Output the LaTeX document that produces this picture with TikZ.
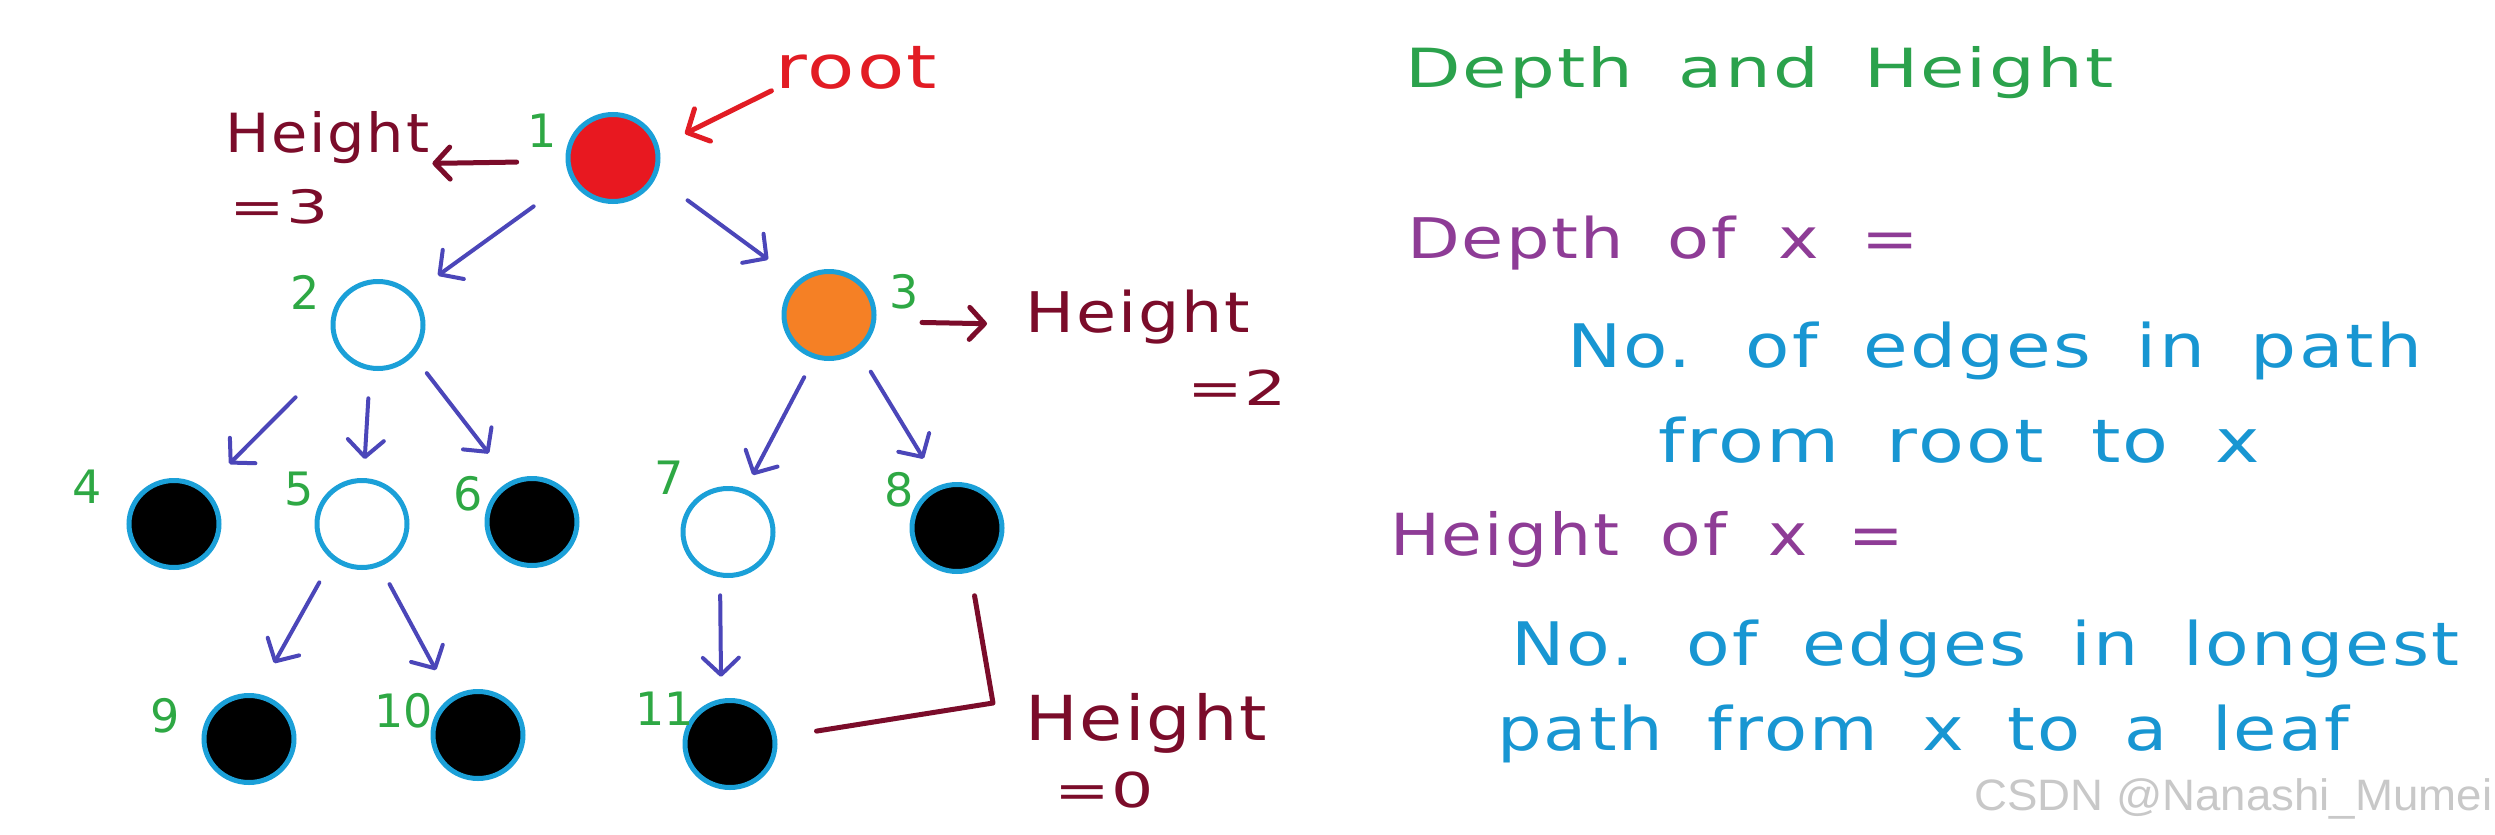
\documentclass[tikz,border=0pt]{standalone}
\usepackage{fontspec}
\usepackage{graphicx}
\usetikzlibrary{shapes.geometric,arrows.meta}
\newfontfamily\hand{DejaVu Sans}[LetterSpace=3,WordSpace=1.8]
\newfontfamily\handnum{DejaVu Sans}
\newfontfamily\wmfont{Liberation Sans}
\newcommand{\fitw}[2]{\resizebox{#1}{\height}{#2}}
\newcommand{\hs}[1]{\fontsize{#1}{#1}\selectfont}
\definecolor{nodeborder}{RGB}{27,160,216}
\definecolor{rootred}{RGB}{232,24,32}
\definecolor{orng}{RGB}{245,128,37}
\definecolor{edgeblue}{RGB}{75,70,185}
\definecolor{numgreen}{RGB}{46,168,68}
\definecolor{maroonc}{RGB}{123,12,42}
\definecolor{rred}{RGB}{226,28,36}
\definecolor{titlegreen}{RGB}{43,162,76}
\definecolor{purp}{RGB}{142,60,150}
\definecolor{txtblue}{RGB}{24,150,210}
\definecolor{wmgray}{RGB}{200,200,200}
\begin{document}
\begin{tikzpicture}[x=1pt,y=-1pt,
  treenode/.style={ellipse, draw=nodeborder, line width=5pt, minimum width=90pt, minimum height=87pt, inner sep=0pt},
  edge/.style={draw=edgeblue, line width=4pt, line cap=round, -{Straight Barb[length=17pt,width=36pt,round]}},
  marrow/.style={draw=maroonc, line width=5pt, line cap=round, -{Straight Barb[length=15pt,width=32pt,round]}},
  rarrow/.style={draw=rred, line width=5pt, line cap=round, -{Straight Barb[length=17pt,width=36pt,round]}},
  mline/.style={draw=maroonc, line width=5pt, line cap=round, line join=round},
  lbl/.style={inner sep=0pt, anchor=base west},
  numlbl/.style={inner sep=0pt, text=numgreen, font=\handnum\hs{46}}
]
\fill[white] (0,0) rectangle (2495,835);
\useasboundingbox (0,0) rectangle (2495,835);

% tree nodes
\node[treenode, fill=rootred] (n1) at (613,158) {};
\node[treenode, fill=white] (n2) at (378,325) {};
\node[treenode, fill=orng] (n3) at (829,315) {};
\node[treenode, fill=black] (n4) at (174,524) {};
\node[treenode, fill=white] (n5) at (362,524) {};
\node[treenode, fill=black] (n6) at (532,522) {};
\node[treenode, fill=white] (n7) at (728,532) {};
\node[treenode, fill=black] (n8) at (957,528) {};
\node[treenode, fill=black] (n9) at (249,739) {};
\node[treenode, fill=black] (n10) at (478,735) {};
\node[treenode, fill=black] (n11) at (730,744) {};

% number labels
\node[numlbl] (l1) at (542,131) {1};
\node[numlbl] (l2) at (305,292) {2};
\node[numlbl] (l3) at (904,292) {3};
\node[numlbl] (l4) at (87,487) {4};
\node[numlbl] (l5) at (299,489) {5};
\node[numlbl] (l6) at (468,494) {6};
\node[numlbl] (l7) at (669,478) {7};
\node[numlbl] (l8) at (899,490) {8};
\node[numlbl] (l9) at (165,716) {9};
\node[numlbl] (l10) at (404,711) {10};
\node[numlbl] (l11) at (665,709) {11};

% edges
\draw[edge,shorten <=46pt,shorten >=31pt] (n1.207) -- (n2.42);
\draw[edge,shorten <=39pt,shorten >=36pt] (n1.336) -- (n3.133);
\draw[edge,shorten <=63pt,shorten >=35pt] (n2.216) -- (n4.49);
\draw[edge,shorten <=28pt,shorten >=19pt] (n2.260) -- (n5.88);
\draw[edge,shorten <=22pt,shorten >=35pt] (n2.319) -- (n6.118);
\draw[edge,shorten <=21pt,shorten >=16pt] (n3.251) -- (n7.68);
\draw[edge,shorten <=24pt,shorten >=31pt] (n3.309) -- (n8.112);
\draw[edge,shorten <=26pt,shorten >=35pt] (n5.230) -- (n9.80);
\draw[edge,shorten <=20pt,shorten >=31pt] (n5.293) -- (n10.126);
\draw[edge,shorten <=18pt,shorten >=22pt] (n7.260) -- (n11.101);

% annotations
\node[lbl, text=rred] (root) at (775,88) {\fitw{162pt}{\hand\hs{60}root}};
\draw[rarrow, shorten <=4pt, shorten >=29pt] (root.south west) -- (n1.14);

\node[lbl, text=maroonc] (h3) at (225,152) {\fitw{204pt}{\hand\hs{54}Height}};
\node[lbl, text=maroonc] (e3) at (229,223) {\fitw{100pt}{\hand\hs{46}=3}};
\draw[marrow, shorten <=49pt, shorten >=3pt] (n1.184) -- (h3.south east);

\node[lbl, text=maroonc] (h2) at (1025,332) {\fitw{225pt}{\hand\hs{56}Height}};
\node[lbl, text=maroonc] (e2) at (1187,405) {\fitw{100pt}{\hand\hs{48}=2}};
\draw[marrow, shorten <=46pt, shorten >=38pt] (n3.352) -- (h2.184);

\node[lbl, text=maroonc] (h0) at (1025,740) {\fitw{242pt}{\hand\hs{62}Height}};
\node[lbl, text=maroonc] (e0) at (1054,807) {\fitw{100pt}{\hand\hs{48}=0}};
\coordinate (hc) at (993,703);
\draw[mline, shorten <=24pt, shorten >=40pt] (n8.287) -- (hc) -- (n11.8);

% right-hand text
\node[lbl, text=titlegreen] (title) at (1405,87) {\fitw{708pt}{\hand\hs{54}Depth and Height}};
\node[lbl, text=purp] (dof) at (1407,258) {\fitw{512pt}{\hand\hs{56}Depth of x =}};
\node[lbl, text=txtblue] (d1) at (1567,367) {\fitw{855pt}{\hand\hs{60}No. of edges in path}};
\node[lbl, text=txtblue] (d2) at (1658,462) {\fitw{602pt}{\hand\hs{60}from root to x}};
\node[lbl, text=purp] (hof) at (1390,555) {\fitw{514pt}{\hand\hs{58}Height of x =}};
\node[lbl, text=txtblue] (g1) at (1511,665) {\fitw{948pt}{\hand\hs{60}No. of edges in longest}};
\node[lbl, text=txtblue] (g2) at (1497,750) {\fitw{852pt}{\hand\hs{60}path from x to a leaf}};

\node[lbl, text=wmgray] (wm) at (1974,810) {\fitw{518pt}{\wmfont\hs{44}CSDN @Nanashi\_Mumei}};
\end{tikzpicture}
\end{document}
